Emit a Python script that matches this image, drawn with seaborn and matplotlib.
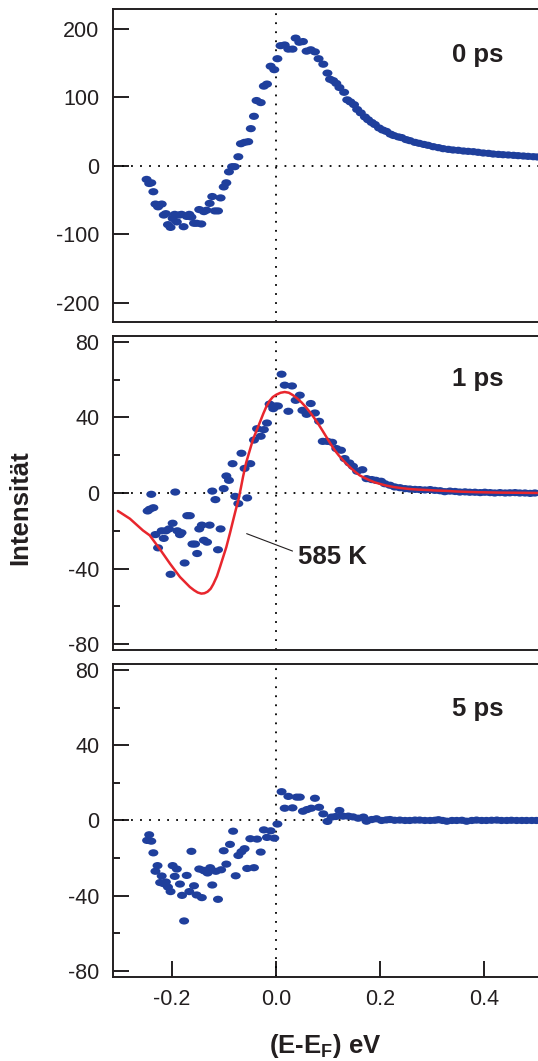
import matplotlib
matplotlib.use("Agg")
import matplotlib.pyplot as plt
from matplotlib.path import Path
from matplotlib.transforms import Affine2D
from matplotlib.ticker import MultipleLocator
import seaborn as sns
import pandas as pd

# ---- data: energy relative to E_F (eV) and intensity ----
e_0ps = [-0.248, -0.243, -0.239, -0.235, -0.231, -0.226, -0.219, -0.215, -0.211, -0.207,
         -0.202, -0.198, -0.194, -0.190, -0.185, -0.181, -0.177, -0.171, -0.166, -0.162,
         -0.157, -0.152, -0.147, -0.143, -0.138, -0.133, -0.127, -0.122, -0.117, -0.111,
         -0.106, -0.100, -0.095, -0.090, -0.084, -0.079, -0.072, -0.067, -0.060, -0.053,
         -0.048, -0.042, -0.037, -0.029, -0.023, -0.017, -0.010, -0.003, 0.003, 0.009,
         0.017, 0.024, 0.032, 0.038, 0.045, 0.052, 0.059, 0.067, 0.075, 0.082,
         0.091, 0.099, 0.104, 0.110, 0.116, 0.122, 0.131, 0.137, 0.143, 0.150,
         0.156, 0.163, 0.171, 0.177, 0.184, 0.190, 0.198, 0.205, 0.212, 0.220,
         0.226, 0.235, 0.241, 0.250, 0.257, 0.267, 0.275, 0.284, 0.292, 0.302,
         0.312, 0.321, 0.331, 0.340, 0.350, 0.360, 0.369, 0.379, 0.388, 0.398,
         0.408, 0.417, 0.427, 0.436, 0.446, 0.456, 0.465, 0.475, 0.484, 0.494, 0.502]
i_0ps = [-20, -26, -25, -38, -56, -60, -56, -72, -70, -86,
         -90, -77, -71, -82, -72, -71, -89, -74, -71, -75,
         -84, -84, -64, -85, -67, -65, -55, -45, -66, -66,
         -47, -31, -25, -9, -1.5, -1.5, 13, 32, 34, 35,
         54, 72, 95, 92, 116, 119, 145, 140, 156, 175,
         176, 170, 170, 186, 180, 181, 167, 169, 166, 156,
         148, 135, 126, 124, 120, 114, 107, 96, 93, 89,
         82, 77, 71, 67, 63, 60, 55, 52, 50, 46,
         44, 42, 41, 38, 36.5, 34, 32.6, 31, 29.7, 27.7,
         26.3, 24.8, 23.8, 22.9, 22.4, 21.4, 20.9, 20.4, 19.5, 18.5,
         18, 17, 16.5, 16, 15.6, 15.1, 14.6, 14.1, 13.6, 13.1, 12.7]

e_1ps = [-0.246, -0.242, -0.239, -0.235, -0.231, -0.226, -0.219, -0.215, -0.211, -0.205,
         -0.202, -0.198, -0.193, -0.189, -0.184, -0.181, -0.175, -0.170, -0.165, -0.160,
         -0.155, -0.151, -0.147, -0.142, -0.138, -0.132, -0.127, -0.122, -0.116, -0.111,
         -0.106, -0.100, -0.095, -0.090, -0.083, -0.078, -0.072, -0.066, -0.060, -0.055,
         -0.049, -0.042, -0.036, -0.029, -0.023, -0.017, -0.012, -0.005, -0.001, 0.004,
         0.011, 0.017, 0.024, 0.031, 0.038, 0.046, 0.051, 0.059, 0.067, 0.075,
         0.083, 0.090, 0.099, 0.108, 0.116, 0.125, 0.132, 0.141, 0.148, 0.156,
         0.166, 0.174, 0.184, 0.192, 0.202, 0.209, 0.219, 0.228, 0.238, 0.248,
         0.257, 0.267, 0.276, 0.286, 0.296, 0.305, 0.315, 0.324, 0.334, 0.344,
         0.353, 0.363, 0.372, 0.382, 0.392, 0.401, 0.411, 0.420, 0.430, 0.440,
         0.449, 0.459, 0.468, 0.478, 0.488, 0.497]
i_1ps = [-9.5, -8.6, -0.7, -7.8, -22, -29, -20, -24, -20, -19,
         -43, -16, 0.5, -20, -22, -21, -37, -12, -12, -27,
         -27, -32, -19, -17, -25, -26, -17, 1, -3.5, -30,
         -19, 2.3, 9, 6.7, 15.5, -1.8, -5.6, 21, 13, -2.6,
         15.5, 28, 34, 30, 33.5, 37, 47, 44.6, 46, 46,
         62.8, 57, 43.2, 56.6, 49, 51.7, 43.7, 41.6, 47.3, 42.3,
         37.9, 27.3, 27.3, 26.8, 23.5, 22.6, 18.2, 15.9, 14.1, 11.5,
         12.3, 7.6, 7.1, 6.7, 6.2, 4.9, 4.1, 3.2, 2.8, 2.3,
         2.1, 1.9, 1.8, 1.6, 1.8, 1.4, 1.2, 0.7, 1.0, 0.8,
         0.5, 0.6, 0.4, 0.4, 0.2, 0.4, 0.2, 0.0, 0.2, 0.0,
         0.1, 0.2, 0.0, 0.0, -0.2, 0.0]

# thermal model curve at 585 K
e_fit = [-0.303, -0.280, -0.255, -0.242, -0.223, -0.203, -0.184, -0.165, -0.157, -0.150,
         -0.143, -0.137, -0.131, -0.125, -0.120, -0.113, -0.107, -0.101, -0.095, -0.088,
         -0.082, -0.077, -0.072, -0.067, -0.063, -0.057, -0.050, -0.044, -0.037, -0.030,
         -0.024, -0.018, -0.012, -0.006, 0.001, 0.009, 0.017, 0.025, 0.033, 0.041,
         0.049, 0.057, 0.065, 0.073, 0.081, 0.089, 0.097, 0.105, 0.113, 0.121,
         0.129, 0.137, 0.145, 0.153, 0.161, 0.170, 0.180, 0.190, 0.200, 0.212,
         0.225, 0.240, 0.257, 0.273, 0.289, 0.308, 0.328, 0.346, 0.366, 0.383,
         0.400, 0.415, 0.430, 0.450, 0.470, 0.487, 0.503]
i_fit = [-9.5, -13.6, -19.8, -22.4, -29.5, -37.4, -44.4, -49.7, -51.4, -52.6,
         -53.2, -53.0, -52.2, -50.6, -48.2, -44.0, -39.0, -33.8, -28.6, -21.2,
         -14.5, -9.0, -3.9, 2.8, 8.5, 16.0, 22.6, 28.2, 33.0, 37.8,
         42.0, 45.8, 48.7, 50.7, 52.0, 53.0, 53.4, 53.0, 51.7, 50.0,
         48.0, 45.6, 42.9, 39.9, 36.7, 33.2, 29.6, 26.0, 22.6, 19.8,
         17.3, 15.0, 12.9, 11.0, 9.3, 8.0, 6.7, 5.6, 4.8, 3.9,
         3.2, 2.6, 2.1, 1.8, 1.6, 1.3, 1.1, 0.8, 0.6, 0.45,
         0.35, 0.28, 0.2, 0.15, 0.1, 0.05, 0.0]

e_5ps = [-0.247, -0.243, -0.239, -0.235, -0.231, -0.227, -0.222, -0.219, -0.215, -0.211,
         -0.207, -0.202, -0.198, -0.194, -0.190, -0.184, -0.180, -0.176, -0.171, -0.166,
         -0.162, -0.157, -0.152, -0.147, -0.142, -0.139, -0.136, -0.131, -0.126, -0.122,
         -0.115, -0.111, -0.105, -0.100, -0.095, -0.088, -0.082, -0.077, -0.072, -0.066,
         -0.060, -0.055, -0.049, -0.042, -0.036, -0.029, -0.023, -0.017, -0.010, -0.003,
         0.003, 0.011, 0.017, 0.024, 0.032, 0.040, 0.046, 0.052, 0.060, 0.068,
         0.075, 0.083, 0.091, 0.099, 0.107, 0.115, 0.122, 0.129, 0.139, 0.148,
         0.158, 0.168, 0.174, 0.184, 0.193, 0.203, 0.212, 0.219, 0.228, 0.238,
         0.248, 0.257, 0.267, 0.276, 0.286, 0.296, 0.305, 0.312, 0.320, 0.328,
         0.338, 0.347, 0.357, 0.366, 0.376, 0.385, 0.395, 0.404, 0.414, 0.424,
         0.433, 0.443, 0.452, 0.462, 0.472, 0.481, 0.491, 0.500]
i_5ps = [-10.6, -7.6, -11, -17.2, -27, -24, -33, -29.5, -33.6, -32.7,
         -35.4, -37.8, -24, -29.7, -25.8, -33.8, -39.8, -53.4, -29.2, -37.8,
         -16.4, -34.7, -39.6, -25.8, -41, -26.5, -26.9, -27.9, -25.1, -34.3,
         -27, -41.9, -26.2, -16.1, -23.2, -12.7, -5.7, -29.4, -18.6, -16.6,
         -15, -25.5, -9.7, -25.1, -9.9, -16.8, -5, -9, -5.5, -9.4,
         -1.9, 15.3, 6.5, 12.8, 6.7, 12.4, 12.4, 4.9, 5.8, 6.5,
         11.8, 7.0, 3.5, -0.5, 1.8, 2.1, 5.3, 2.3, 2.3, 1.9,
         1.2, 1.8, -0.4, 0.5, 0.9, 0.0, 0.3, 0.5, 0.1, 0.2,
         0.0, 0.0, 0.2, 0.2, 0.0, 0.0, 0.1, 0.4, 0.0, -0.4,
         0.0, 0.0, 0.1, -0.4, 0.0, 0.2, 0.0, 0.0, 0.1, 0.2,
         0.0, 0.0, 0.1, 0.0, 0.0, 0.0, 0.0, 0.0]

panel_labels = ["0 ps", "1 ps", "5 ps"]
fit_label = "585 K"
y_label = "Intensität"
x_label = r"(E-E$_\mathbf{F}$) eV"
x_ticks = [-0.2, 0.0, 0.2, 0.4]
y_ticks_top = [-200, -100, 0, 100, 200]
y_ticks_lower = [-80, -40, 0, 40, 80]

# ---- style ----
sns.set_theme(style="ticks")
INK = "#231f20"
BLUE = "#1f3f9c"
RED = "#e8262d"
plt.rcParams.update({
    "font.family": ["Liberation Sans", "DejaVu Sans"],
    "mathtext.fontset": "custom",
    "mathtext.rm": "Liberation Sans",
    "mathtext.bf": "Liberation Sans:bold",
    "axes.unicode_minus": False,
    "axes.edgecolor": INK,
    "axes.linewidth": 1.4,
    "text.color": INK,
    "xtick.color": INK,
    "ytick.color": INK,
})

fig = plt.figure(figsize=(5.38, 10.61), dpi=100)
left, width = 0.2095, 1.0 - 0.2095
boxes = [(0.6965, 0.2947), (0.3874, 0.2959), (0.0795, 0.2944)]
axes = [fig.add_axes([left, b, width, h]) for b, h in boxes]

# elliptical dot marker, wider than tall
ellipse = Path.unit_circle().transformed(Affine2D().scale(1.0, 0.72))

series = [(e_0ps, i_0ps), (e_1ps, i_1ps), (e_5ps, i_5ps)]
ylims = [(-228, 228), (-83, 83), (-83, 83)]
label_y = [151, 56.5, 55.7]

for k, ax in enumerate(axes):
    e, inten = series[k]
    df = pd.DataFrame({"E": e, "I": inten})
    ax.set_xlim(-0.313, 0.503)
    ax.set_ylim(*ylims[k])

    # reference lines at zero intensity and at the Fermi level
    ax.axhline(0, color="black", lw=1.3, ls=(0, (1, 4)), zorder=1)
    ax.axvline(0, color="black", lw=1.3, ls=(0, (1, 4)), zorder=1)

    sns.scatterplot(data=df, x="E", y="I", ax=ax, marker=ellipse, s=52,
                    color=BLUE, edgecolor="none", linewidth=0, zorder=3, legend=False)

    ax.spines["right"].set_visible(False)
    for side in ("left", "top", "bottom"):
        ax.spines[side].set_linewidth(1.4)
        ax.spines[side].set_color(INK)

    if k == 0:
        ax.set_yticks(y_ticks_top)
    else:
        ax.set_yticks(y_ticks_lower)
        ax.yaxis.set_minor_locator(MultipleLocator(20))
    ax.tick_params(axis="y", which="major", direction="in", length=11.3, width=1.4,
                   pad=9.5, labelsize=15.5, right=False)
    ax.tick_params(axis="y", which="minor", direction="in", length=5.3, width=1.4,
                   right=False)

    if k == 2:
        ax.set_xticks(x_ticks)
        ax.set_xticklabels([f"{v:.1f}" for v in x_ticks])
        ax.tick_params(axis="x", which="major", direction="in", length=11.3, width=1.4,
                       pad=9, labelsize=15.5, top=False)
    else:
        ax.tick_params(axis="x", which="both", bottom=False, top=False,
                       labelbottom=False)

    ax.set_xlabel("")
    ax.set_ylabel("")
    ax.text(0.387, label_y[k], panel_labels[k], ha="center", va="baseline",
            fontsize=18.5, fontweight="bold")

# model curve and its label in the 1 ps panel
ax1 = axes[1]
sns.lineplot(x=e_fit, y=i_fit, ax=ax1, sort=False, estimator=None,
             color=RED, lw=1.8, zorder=4)
ax1.plot([-0.056, 0.032], [-21.5, -30.7], color=INK, lw=0.8, zorder=4)
ax1.text(0.042, -33.9, fit_label, ha="left", va="center",
         fontsize=18.5, fontweight="bold")

fig.text(0.0385, 0.5217, y_label, rotation=90, ha="center", va="center",
         fontsize=18.5, fontweight="bold")
fig.text(0.604, 0.0073, x_label, ha="center", va="baseline",
         fontsize=18.5, fontweight="bold")

fig.savefig("out.png", dpi=100)
